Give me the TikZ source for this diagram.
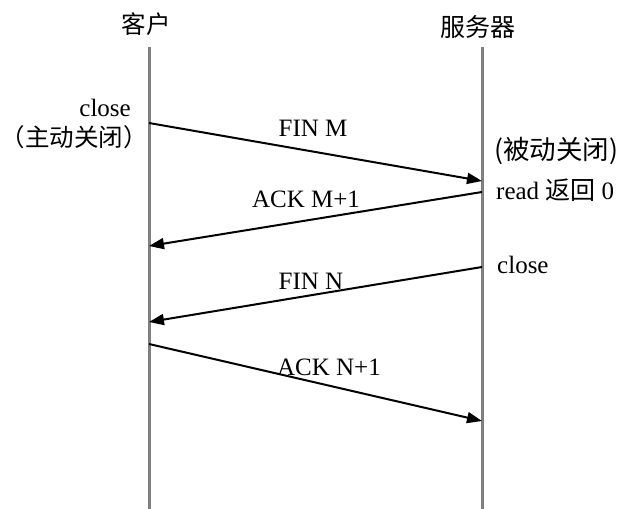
\documentclass[tikz,border=0pt]{standalone}
\usepackage{fontspec}
\setmainfont{Liberation Serif}
\newfontfamily\cjk{Noto Sans CJK SC}
\usepackage{tikz}
\usetikzlibrary{arrows.meta}

\begin{document}
\begin{tikzpicture}[x=1pt, y=-1pt, font=\fontsize{25}{28}\selectfont,
    every node/.style={inner sep=0pt},
    lifeline/.style={draw=gray, line width=3pt},
    msg/.style={line width=2pt, -{Triangle[length=15pt,width=11pt]}},
    cjklabel/.style={font=\fontsize{26.5}{30}\selectfont\cjk}]
            \useasboundingbox (0,0) rectangle (622,509);
            \node[font=\fontsize{24.5}{28}\selectfont\cjk] (client) at (146,24) {客户};
            \node[font=\fontsize{25}{28}\selectfont\cjk] (server) at (478,27) {服务器};
            \coordinate (clientEnd) at (149,509);
            \coordinate (serverEnd) at (482,509);
            \draw[lifeline] (149,47) -- (clientEnd); % client
            \draw[lifeline] (482,47) -- (serverEnd); % server
            \coordinate (c1) at (149,123);
            \coordinate (s1) at (482,181);
            \coordinate (s2) at (482,192);
            \coordinate (c2) at (149,246);
            \coordinate (s3) at (482,267);
            \coordinate (c3) at (149,322);
            \coordinate (c4) at (149,344);
            \coordinate (s4) at (482,421);
            \draw[msg] (c1) -- (s1); % FIN M
            \draw[msg] (s2) -- (c2); % ACK M+1
            \draw[msg] (s3) -- (c3); % FIN N
            \draw[msg] (c4) -- (s4); % ACK N+1
            \node[anchor=east] (cclose) at (131,108) {close};
            \node[anchor=west, font=\fontsize{24.5}{30}\selectfont\cjk] (active) at (0.5,137) {（主动关闭）};
            \node (finm) at (313,128) {FIN M};
            \node[anchor=west, cjklabel] (passive) at (494,151) {(被动关闭)};
            \node[anchor=west] (readret) at (496,190) {read {\cjk 返回} 0};
            \node (ackm) at (306,199) {ACK M+1};
            \node[anchor=west] (sclose) at (497,265) {close};
            \node (finn) at (311,281) {FIN N};
            \node (ackn) at (329,367) {ACK N+1};
        \end{tikzpicture}
\end{document}
